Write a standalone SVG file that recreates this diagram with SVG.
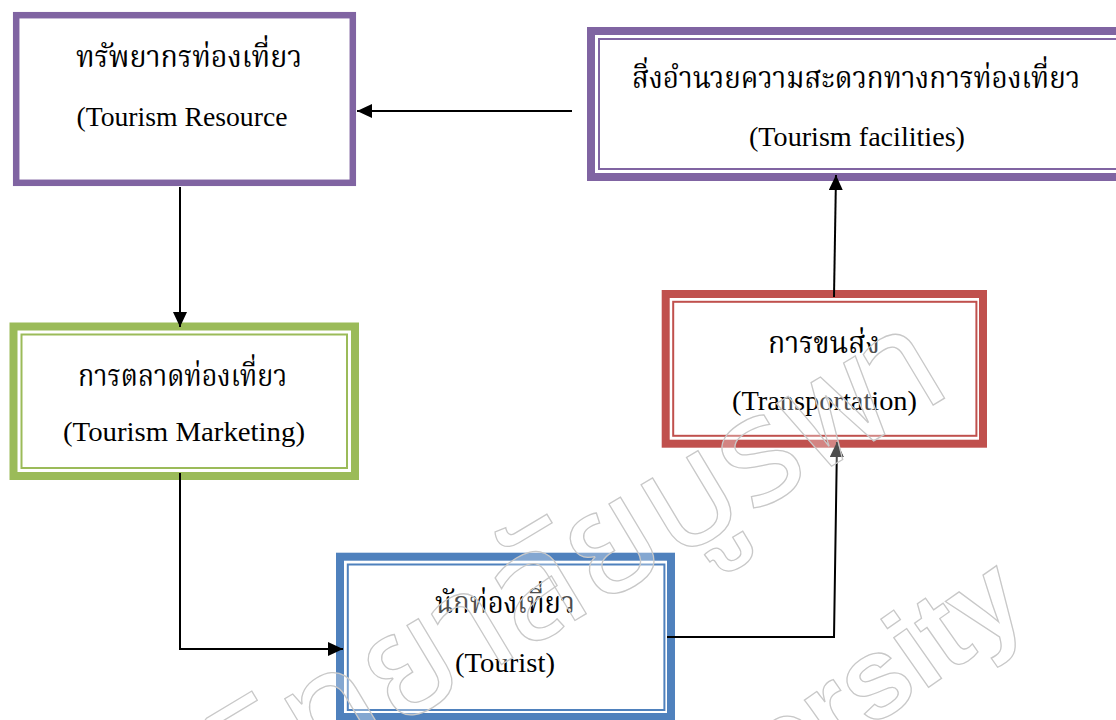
<svg xmlns="http://www.w3.org/2000/svg" width="1116" height="720" viewBox="0 0 1116 720">
<style>
.th{font-family:"Liberation Serif","Noto Serif Thai","Noto Sans Thai","Noto Sans",serif;font-size:30px;fill:#000;text-anchor:middle}
.en{font-family:"Liberation Serif","Times New Roman",serif;font-size:27px;fill:#000;text-anchor:middle}
.bg{fill:#fff}
.conn{fill:none;stroke:#000;stroke-width:2}
.wm{fill:#fff;fill-opacity:0.3;stroke:#c8c8c8;stroke-width:1.3}
</style>
<defs>
<marker id="ah" markerUnits="userSpaceOnUse" markerWidth="16" markerHeight="14" refX="15" refY="7" orient="auto">
<path d="M0,0 L15,7 L0,14 z" fill="#000"/>
</marker>
</defs>
<rect width="1116" height="720" fill="#fff"/>

<g id="node-resource">
<rect x="16.2" y="15.2" width="336.6" height="167.6" class="bg" stroke="#8064A2" stroke-width="6.5"/>
<text class="th" x="189" y="67" textLength="226" lengthAdjust="spacingAndGlyphs">ทรัพยากรท่องเที่ยว</text>
<text class="en" x="182" y="126" textLength="211" lengthAdjust="spacingAndGlyphs">(Tourism Resource</text>
</g>

<g id="node-facilities">
<rect x="591" y="31" width="540" height="146" class="bg" stroke="#8064A2" stroke-width="8"/>
<rect x="599" y="39" width="524" height="130" fill="none" stroke="#8064A2" stroke-width="2"/>
<text class="th" x="856" y="88" textLength="448" lengthAdjust="spacingAndGlyphs">สิ่งอำนวยความสะดวกทางการท่องเที่ยว</text>
<text class="en" x="857" y="146" textLength="216" lengthAdjust="spacingAndGlyphs">(Tourism facilities)</text>
</g>

<g id="node-marketing">
<rect x="13.5" y="326.5" width="341.5" height="149.5" class="bg" stroke="#9BBB59" stroke-width="8"/>
<rect x="21.5" y="334.5" width="325.5" height="133.5" fill="none" stroke="#9BBB59" stroke-width="2"/>
<text class="th" x="182.5" y="386" textLength="209" lengthAdjust="spacingAndGlyphs">การตลาดท่องเที่ยว</text>
<text class="en" x="184" y="441" textLength="242" lengthAdjust="spacingAndGlyphs">(Tourism Marketing)</text>
</g>

<g id="node-transportation">
<rect x="665.7" y="294" width="317.3" height="149.7" class="bg" stroke="#C0504D" stroke-width="8"/>
<rect x="673.2" y="301.8" width="303.2" height="134" fill="none" stroke="#C0504D" stroke-width="2"/>
<text class="th" x="824" y="353" textLength="112" lengthAdjust="spacingAndGlyphs">การขนส่ง</text>
<text class="en" x="824.5" y="410" textLength="185" lengthAdjust="spacingAndGlyphs">(Transportation)</text>
</g>

<g id="node-tourist">
<rect x="340" y="556.7" width="331" height="160.3" class="bg" stroke="#4F81BD" stroke-width="8"/>
<rect x="347.8" y="564.5" width="316.6" height="145.5" fill="none" stroke="#4F81BD" stroke-width="2"/>
<text class="th" x="505" y="613" textLength="140" lengthAdjust="spacingAndGlyphs">นักท่องเที่ยว</text>
<text class="en" x="505" y="672" textLength="100" lengthAdjust="spacingAndGlyphs">(Tourist)</text>
</g>

<g id="connectors">
<path class="conn" d="M572,111 H357" marker-end="url(#ah)"/>
<path class="conn" d="M180,187 V327" marker-end="url(#ah)"/>
<path class="conn" d="M180,473 V649 H343" marker-end="url(#ah)"/>
<path class="conn" d="M667,637 H834 L837,442" marker-end="url(#ah)"/>
<path class="conn" d="M834,297 L836,175" marker-end="url(#ah)"/>
</g>

<g id="watermark">
<text class="wm" x="955" y="392" transform="rotate(-31 955 392)" style="font-family:'Noto Sans Thai','Noto Sans',sans-serif;font-size:150px;text-anchor:end">มหาวิทยาลัยบูรพา</text>
<text class="wm" x="1032" y="615" transform="rotate(-35 1032 615)" style="font-family:'Liberation Sans',sans-serif;font-weight:bold;font-size:115px;text-anchor:end">University</text>
</g>
</svg>
